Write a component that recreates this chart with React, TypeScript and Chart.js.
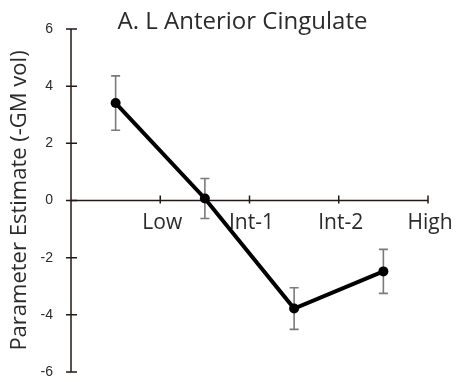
import React, { useEffect, useRef } from 'react';
import { Chart, registerables } from 'chart.js';

Chart.register(...registerables);

// Chart text
const chartTitle = 'A. L Anterior Cingulate';
const yAxisTitle = 'Parameter Estimate (-GM vol)';

// Category axis: labels sit on the bin boundaries, points sit at the bin centres
const tickLabels = ['Low', 'Int-1', 'Int-2', 'High'];
const tickValues = [1, 2, 3, 4];
const groupCenters = [0.5, 1.5, 2.5, 3.5];

// Parameter estimates and their error-bar half widths
const estimates = [3.41, 0.07, -3.78, -2.48];
const errors = [0.95, 0.7, 0.73, 0.77];

// Vertical axis range
const yMin = -6;
const yMax = 6;
const yStep = 2;

const TEXT = '#2b2b2b';
const AXIS = '#231815';
const HUMANIST = '"Open Sans", "DejaVu Sans", sans-serif';

const axesAndErrorBars = {
  id: 'axesAndErrorBars',
  beforeDatasetsDraw(chart: any) {
    const { ctx, chartArea, scales } = chart;
    const xs = scales.x;
    const ys = scales.y;
    const y0 = ys.getPixelForValue(0);
    ctx.save();

    // vertical axis with crossing tick marks
    ctx.strokeStyle = AXIS;
    ctx.lineWidth = 1.5;
    ctx.beginPath();
    ctx.moveTo(chartArea.left, ys.getPixelForValue(yMax));
    ctx.lineTo(chartArea.left, ys.getPixelForValue(yMin));
    for (let v = yMin; v <= yMax; v += yStep) {
      const py = ys.getPixelForValue(v);
      ctx.moveTo(chartArea.left - 5, py);
      ctx.lineTo(chartArea.left + 6, py);
    }
    ctx.stroke();

    // horizontal axis through zero
    ctx.beginPath();
    ctx.moveTo(xs.getPixelForValue(0), y0);
    ctx.lineTo(xs.getPixelForValue(4), y0);
    tickValues.forEach((v) => {
      const px = xs.getPixelForValue(v);
      ctx.moveTo(px, y0 - 5);
      ctx.lineTo(px, y0 + 3);
    });
    ctx.stroke();

    // category labels under the zero line
    ctx.fillStyle = TEXT;
    ctx.font = `21px ${HUMANIST}`;
    ctx.textAlign = 'center';
    ctx.textBaseline = 'alphabetic';
    tickValues.forEach((v, i) => {
      ctx.fillText(tickLabels[i], xs.getPixelForValue(v) + 2, y0 + 28);
    });

    // error bars
    ctx.strokeStyle = '#7a7a7a';
    ctx.lineWidth = 1.6;
    groupCenters.forEach((gx, i) => {
      const px = xs.getPixelForValue(gx);
      const top = ys.getPixelForValue(estimates[i] + errors[i]);
      const bot = ys.getPixelForValue(estimates[i] - errors[i]);
      ctx.beginPath();
      ctx.moveTo(px, top);
      ctx.lineTo(px, bot);
      ctx.moveTo(px - 4.5, top);
      ctx.lineTo(px + 4.5, top);
      ctx.moveTo(px - 4.5, bot);
      ctx.lineTo(px + 4.5, bot);
      ctx.stroke();
    });

    ctx.restore();
  },
  afterDraw(chart: any) {
    const { ctx, chartArea } = chart;
    ctx.save();
    ctx.fillStyle = TEXT;
    ctx.font = `24px ${HUMANIST}`;
    ctx.textAlign = 'center';
    ctx.textBaseline = 'alphabetic';
    ctx.fillText(chartTitle, (chartArea.left + chartArea.right) / 2 - 7, chartArea.top - 0.5);
    ctx.restore();
  },
};

export default function App() {
  const canvasRef = useRef<HTMLCanvasElement | null>(null);

  useEffect(() => {
    const canvas = canvasRef.current;
    if (!canvas) return;
    const chart = new Chart(canvas, {
      type: 'line',
      data: {
        datasets: [
          {
            data: groupCenters.map((x, i) => ({ x, y: estimates[i] })),
            borderColor: '#000000',
            backgroundColor: '#000000',
            borderWidth: 4,
            pointRadius: 5,
            pointBorderWidth: 0,
            pointBackgroundColor: '#000000',
            tension: 0,
            fill: false,
          },
        ],
      },
      options: {
        responsive: false,
        animation: false,
        devicePixelRatio: 1,
        layout: { padding: { left: 0, top: 29, right: 31, bottom: 10 } },
        plugins: {
          legend: { display: false },
          tooltip: { enabled: false },
          title: { display: false },
        },
        scales: {
          x: { type: 'linear', min: 0, max: 4, display: false },
          y: {
            type: 'linear',
            min: yMin,
            max: yMax,
            afterFit(scale: any) {
              scale.width = 71;
            },
            ticks: {
              stepSize: yStep,
              padding: 0,
              color: TEXT,
              font: { family: '"Liberation Sans", Arial, sans-serif', size: 14 },
            },
            // invisible tick marks only reserve the gap between labels and axis
            grid: {
              display: true,
              drawOnChartArea: false,
              drawTicks: true,
              tickLength: 18,
              tickColor: 'rgba(0,0,0,0)',
              color: 'rgba(0,0,0,0)',
            },
            border: { display: false },
            title: {
              display: true,
              text: yAxisTitle,
              color: TEXT,
              font: { family: HUMANIST, size: 22 },
              padding: { top: 7, bottom: 0 },
            },
          },
        },
      },
      plugins: [axesAndErrorBars],
    });
    return () => chart.destroy();
  }, []);

  return (
    <div style={{ position: 'absolute', left: 0, top: 0, width: 459, height: 382, background: '#ffffff' }}>
      <canvas ref={canvasRef} width={459} height={382} style={{ display: 'block' }} />
    </div>
  );
}
